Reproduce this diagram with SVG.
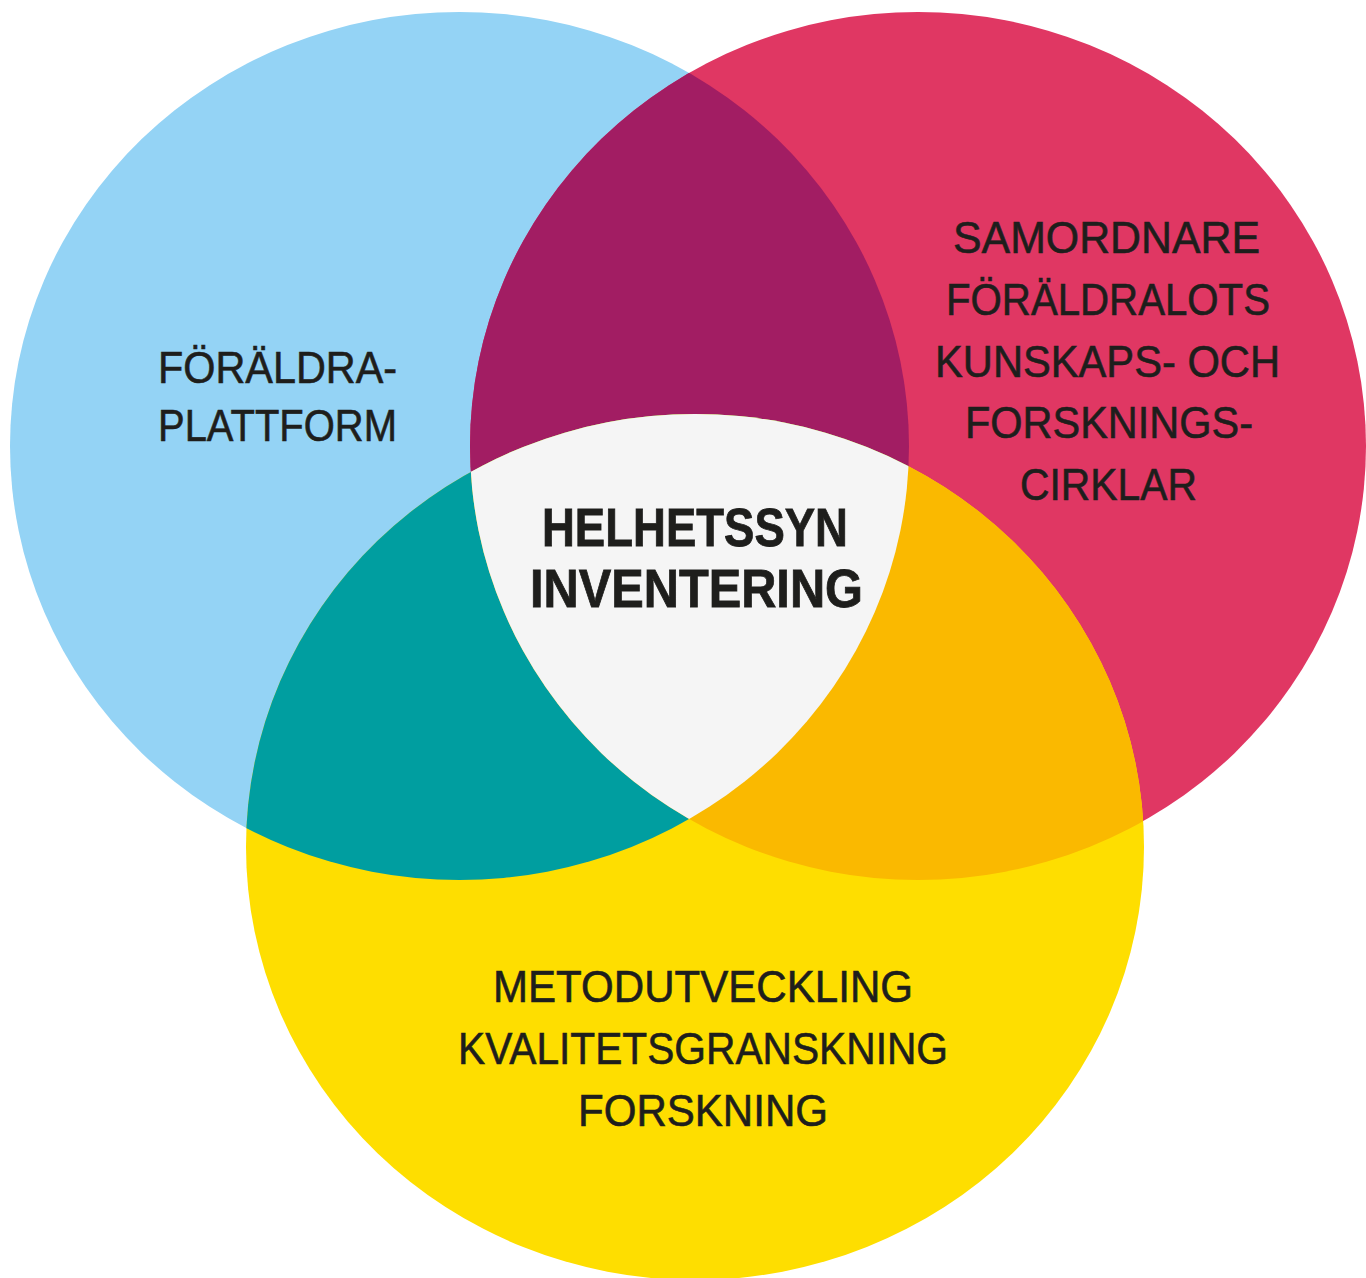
<svg xmlns="http://www.w3.org/2000/svg" width="1366" height="1278" viewBox="0 0 1366 1278">
  <style>
    .lbl { font-family: "Liberation Sans", Arial, sans-serif; font-size: 44px; fill: #1E1E1C; stroke: #1E1E1C; stroke-width: 0.6px; text-anchor: middle; }
    .ctr { font-family: "Liberation Sans", Arial, sans-serif; font-size: 54px; font-weight: bold; fill: #1E1E1C; stroke: #1E1E1C; stroke-width: 0.8px; text-anchor: middle; }
  </style>
  <defs>
    <clipPath id="clipBlue"><ellipse cx="459.5" cy="446" rx="449.5" ry="434"/></clipPath>
    <clipPath id="clipRed"><ellipse cx="918" cy="446" rx="448" ry="434"/></clipPath>
    <clipPath id="clipYellow"><ellipse cx="695" cy="847" rx="449" ry="433"/></clipPath>
  </defs>
  <rect width="1366" height="1278" fill="#FFFFFF"/>

  <g id="node-foraldraplattform">
    <ellipse cx="459.5" cy="446" rx="449.5" ry="434" fill="#94D3F5"/>
  </g>
  <g id="node-samordnare">
    <ellipse cx="918" cy="446" rx="448" ry="434" fill="#E03763"/>
  </g>
  <g id="node-metodutveckling">
    <ellipse cx="695" cy="847" rx="449" ry="433" fill="#FEDE00"/>
  </g>

  <g id="overlaps">
    <g clip-path="url(#clipRed)"><ellipse cx="459.5" cy="446" rx="449.5" ry="434" fill="#A21D63"/></g>
    <g clip-path="url(#clipYellow)"><ellipse cx="459.5" cy="446" rx="449.5" ry="434" fill="#009EA0"/></g>
    <g clip-path="url(#clipYellow)"><ellipse cx="918" cy="446" rx="448" ry="434" fill="#FAB900"/></g>
  </g>

  <g id="node-helhetssyn">
    <g clip-path="url(#clipRed)"><g clip-path="url(#clipYellow)"><ellipse cx="459.5" cy="446" rx="449.5" ry="434" fill="#F5F5F5"/></g></g>
    <text class="ctr" x="695" y="545.5" textLength="306" lengthAdjust="spacingAndGlyphs">HELHETSSYN</text>
    <text class="ctr" x="696.5" y="607" textLength="333" lengthAdjust="spacingAndGlyphs">INVENTERING</text>
  </g>

  <g id="labels">
    <text class="lbl" x="277.5" y="383" textLength="239" lengthAdjust="spacingAndGlyphs">FÖRÄLDRA-</text>
    <text class="lbl" x="277.5" y="441" textLength="239" lengthAdjust="spacingAndGlyphs">PLATTFORM</text>

    <text class="lbl" x="1106.5" y="253" textLength="307" lengthAdjust="spacingAndGlyphs">SAMORDNARE</text>
    <text class="lbl" x="1108" y="315" textLength="324" lengthAdjust="spacingAndGlyphs">FÖRÄLDRALOTS</text>
    <text class="lbl" x="1107.5" y="377" textLength="345" lengthAdjust="spacingAndGlyphs">KUNSKAPS- OCH</text>
    <text class="lbl" x="1109" y="438" textLength="288" lengthAdjust="spacingAndGlyphs">FORSKNINGS-</text>
    <text class="lbl" x="1108.5" y="500" textLength="177" lengthAdjust="spacingAndGlyphs">CIRKLAR</text>

    <text class="lbl" x="703" y="1002" textLength="420" lengthAdjust="spacingAndGlyphs">METODUTVECKLING</text>
    <text class="lbl" x="703" y="1064" textLength="490" lengthAdjust="spacingAndGlyphs">KVALITETSGRANSKNING</text>
    <text class="lbl" x="703" y="1126" textLength="250" lengthAdjust="spacingAndGlyphs">FORSKNING</text>
  </g>
</svg>
